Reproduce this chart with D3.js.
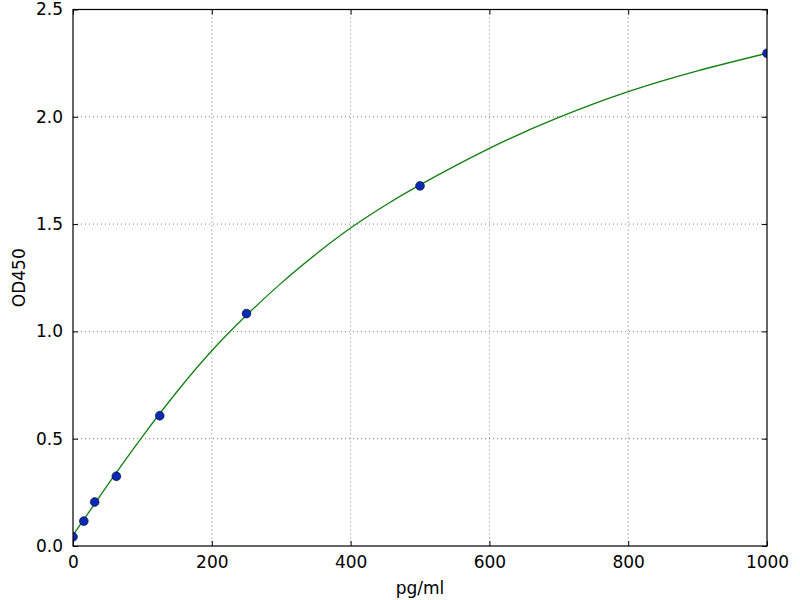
<!DOCTYPE html>
<html>
<head>
<meta charset="utf-8">
<script src="https://cdn.jsdelivr.net/npm/d3@7"></script>
<style>
  html, body { margin: 0; padding: 0; background: #fff; }
  svg { display: block; font-family: "DejaVu Sans", sans-serif; }
</style>
</head>
<body>
<svg id="chart" width="800" height="600"></svg>
<script>
// Measured standards (pg/ml vs OD450)
const concentrations = [0, 15.6, 31.25, 62.5, 125, 250, 500, 1000];
const odValues = [0.043, 0.116, 0.205, 0.325, 0.607, 1.083, 1.678, 2.296];

// Fitted curve
const curveX = [0, 50, 100, 150, 200, 250, 300, 350, 400, 450, 500, 600, 700, 800, 900, 1000];
const curveY = [0.05, 0.285, 0.51, 0.72, 0.91, 1.075, 1.225, 1.36, 1.482, 1.588, 1.683, 1.853, 1.997, 2.117, 2.214, 2.296];

const xTicks = [0, 200, 400, 600, 800, 1000];
const yTicks = [0.0, 0.5, 1.0, 1.5, 2.0, 2.5];

const svg = d3.select("#chart");
const pL = 73, pR = 767, pT = 9.5, pB = 546;

const x = d3.scaleLinear().domain([0, 1000]).range([pL, pR]);
const y = d3.scaleLinear().domain([0, 2.5]).range([pB, pT]);

svg.append("defs").append("clipPath").attr("id", "plotclip")
  .append("rect").attr("x", pL).attr("y", pT).attr("width", pR - pL).attr("height", pB - pT);

// grid
const grid = svg.append("g");
grid.selectAll(".gx").data(xTicks.slice(1, -1)).enter().append("line")
  .attr("x1", d => x(d)).attr("x2", d => x(d))
  .attr("y1", pT).attr("y2", pB)
  .attr("stroke", "#000").attr("stroke-width", 0.8)
  .attr("stroke-dasharray", "1,3").attr("opacity", 0.65);
grid.selectAll(".gy").data(yTicks.slice(1, -1)).enter().append("line")
  .attr("y1", d => y(d)).attr("y2", d => y(d))
  .attr("x1", pL).attr("x2", pR)
  .attr("stroke", "#000").attr("stroke-width", 0.8)
  .attr("stroke-dasharray", "1,3").attr("opacity", 0.65);

const plot = svg.append("g").attr("clip-path", "url(#plotclip)");

// curve
const line = d3.line().x((d, i) => x(curveX[i])).y(d => y(d)).curve(d3.curveNatural);
plot.append("path").datum(curveY)
  .attr("d", line).attr("fill", "none")
  .attr("stroke", "#108010").attr("stroke-width", 1.3);

// points
plot.append("g").selectAll("circle").data(odValues).enter().append("circle")
  .attr("cx", (d, i) => x(concentrations[i]))
  .attr("cy", d => y(d))
  .attr("r", 4.4)
  .attr("fill", "#0a2ab0").attr("stroke", "#000030").attr("stroke-width", 0.6);

// axes (ticks inward on all sides)
const tickFmtX = d3.format("d");
const tickFmtY = d3.format(".1f");
const axB = d3.axisBottom(x).tickValues(xTicks).tickSizeInner(-5).tickSizeOuter(0).tickPadding(10).tickFormat(tickFmtX);
const axT = d3.axisTop(x).tickValues(xTicks).tickSizeInner(-5).tickSizeOuter(0).tickFormat("");
const axL = d3.axisLeft(y).tickValues(yTicks).tickSizeInner(-5).tickSizeOuter(0).tickPadding(10).tickFormat(tickFmtY);
const axR = d3.axisRight(y).tickValues(yTicks).tickSizeInner(-5).tickSizeOuter(0).tickFormat("");

function styleAxis(g) {
  g.select(".domain").remove();
  g.selectAll(".tick line").attr("stroke", "#000").attr("stroke-width", 1);
  g.selectAll(".tick text").attr("fill", "#000").style("font-size", "17px").style("font-family", "'DejaVu Sans', sans-serif");
}
svg.append("g").attr("transform", `translate(0,${pB})`).call(axB).call(styleAxis);
svg.append("g").attr("transform", `translate(0,${pT})`).call(axT).call(styleAxis);
svg.append("g").attr("transform", `translate(${pL},0)`).call(axL).call(styleAxis);
svg.append("g").attr("transform", `translate(${pR},0)`).call(axR).call(styleAxis);

// frame
svg.append("rect").attr("x", pL).attr("y", pT)
  .attr("width", pR - pL).attr("height", pB - pT)
  .attr("fill", "none").attr("stroke", "#000").attr("stroke-width", 1.2);

// axis labels
svg.append("text").attr("x", (pL + pR) / 2).attr("y", 594)
  .attr("text-anchor", "middle").style("font-size", "17px").text("pg/ml");
svg.append("text").attr("transform", `translate(25,${(pT + pB) / 2}) rotate(-90)`)
  .attr("text-anchor", "middle").style("font-size", "17px").text("OD450");
</script>
</body>
</html>
